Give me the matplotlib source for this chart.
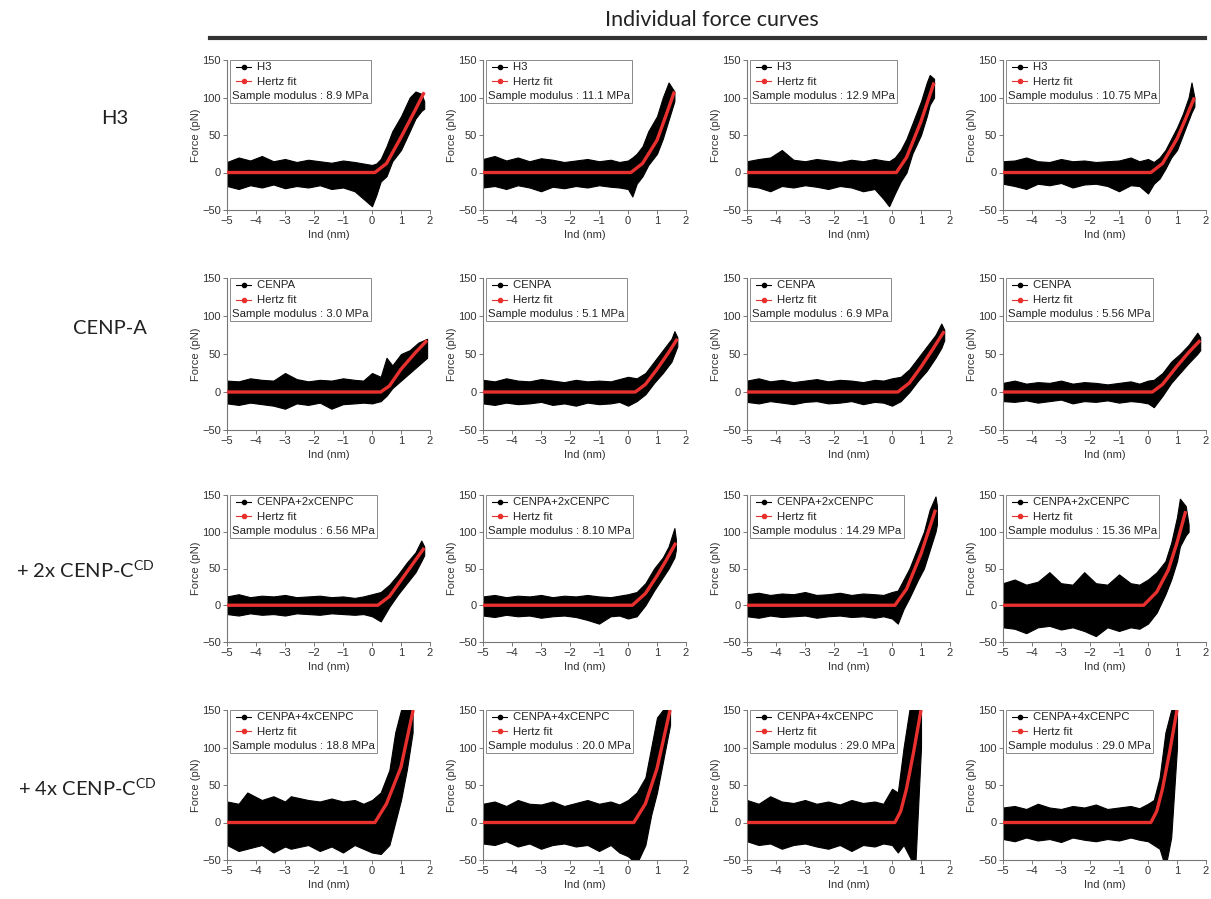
import matplotlib
matplotlib.use("Agg")
import matplotlib.pyplot as plt
from matplotlib.lines import Line2D

# ---------------- data ----------------
row_labels = ["H3", "CENP-A", "+ 2x CENP-C$^{\\mathregular{CD}}$", "+ 4x CENP-C$^{\\mathregular{CD}}$"]
sample_names = ["H3", "CENPA", "CENPA+2xCENPC", "CENPA+4xCENPC"]
moduli = [["8.9", "11.1", "12.9", "10.75"],
          ["3.0", "5.1", "6.9", "5.56"],
          ["6.56", "8.10", "14.29", "15.36"],
          ["18.8", "20.0", "29.0", "29.0"]]

x_ticks = [-5, -4, -3, -2, -1, 0, 1, 2]
y_ticks = [-50, 0, 50, 100, 150]

# Hertz fit curves (x in nm, F in pN)
fit_x = [
    [[-5, 0.1, 0.5, 1.0, 1.5, 1.8], [-5, 0.1, 0.5, 1.0, 1.3, 1.6], [-5, 0.15, 0.5, 1.0, 1.45], [-5, 0.1, 0.5, 1.0, 1.3, 1.6]],
    [[-5, 0.3, 0.6, 1.0, 1.5, 1.9], [-5, 0.25, 0.6, 1.0, 1.4, 1.7], [-5, 0.2, 0.6, 1.0, 1.4, 1.8], [-5, 0.15, 0.5, 1.0, 1.4, 1.8]],
    [[-5, 0.2, 0.6, 1.0, 1.4, 1.8], [-5, 0.15, 0.6, 1.0, 1.3, 1.65], [-5, 0.1, 0.5, 1.0, 1.5], [-5, -0.15, 0.3, 0.7, 1.0, 1.3]],
    [[-5, 0.1, 0.5, 1.0, 1.42], [-5, 0.2, 0.6, 1.0, 1.45], [-5, 0.1, 0.3, 0.5, 0.75, 1.0], [-5, 0.1, 0.3, 0.5, 0.75, 1.0]],
]
fit_f = [
    [[0, 0, 12, 47, 84, 107], [0, 0, 12, 43, 75, 108], [0, 0, 20, 68, 120], [0, 0, 12, 45, 72, 100]],
    [[0, 0, 8, 30, 52, 68], [0, 0, 10, 30, 52, 70], [0, 0, 12, 33, 56, 80], [0, 0, 10, 34, 52, 68]],
    [[0, 0, 12, 34, 56, 78], [0, 0, 16, 40, 60, 85], [0, 0, 22, 70, 130], [0, 0, 18, 48, 85, 128]],
    [[0, 0, 25, 74, 150], [0, 0, 25, 72, 150], [0, 0, 15, 45, 95, 150], [0, 0, 15, 45, 95, 150]],
]

# Envelope of the measured point cloud (x in nm, upper / lower force in pN)
env_x = [
    [[-5, -4.6, -4.2, -3.8, -3.4, -3.0, -2.6, -2.2, -1.8, -1.4, -1.0, -0.6, -0.3, 0.0, 0.15, 0.3, 0.5, 0.7, 1.0, 1.3, 1.5, 1.7, 1.8],
     [-5, -4.6, -4.2, -3.8, -3.4, -3.0, -2.6, -2.2, -1.8, -1.4, -1.0, -0.6, -0.3, 0.0, 0.15, 0.3, 0.5, 0.7, 1.0, 1.2, 1.4, 1.6],
     [-5, -4.6, -4.2, -3.8, -3.4, -3.0, -2.6, -2.2, -1.8, -1.4, -1.0, -0.6, -0.3, -0.1, 0.1, 0.3, 0.5, 0.7, 1.0, 1.2, 1.3, 1.45],
     [-5, -4.6, -4.2, -3.8, -3.4, -3.0, -2.6, -2.2, -1.8, -1.4, -1.0, -0.6, -0.3, 0.0, 0.2, 0.4, 0.6, 0.8, 1.0, 1.2, 1.4, 1.5, 1.6]],
    [[-5, -4.6, -4.2, -3.8, -3.4, -3.0, -2.6, -2.2, -1.8, -1.4, -1.0, -0.6, -0.3, 0.0, 0.3, 0.5, 0.7, 1.0, 1.3, 1.6, 1.9],
     [-5, -4.6, -4.2, -3.8, -3.4, -3.0, -2.6, -2.2, -1.8, -1.4, -1.0, -0.6, -0.3, 0.0, 0.3, 0.6, 0.9, 1.2, 1.5, 1.6, 1.7],
     [-5, -4.6, -4.2, -3.8, -3.4, -3.0, -2.6, -2.2, -1.8, -1.4, -1.0, -0.6, -0.3, 0.0, 0.3, 0.6, 0.9, 1.2, 1.5, 1.7, 1.8],
     [-5, -4.6, -4.2, -3.8, -3.4, -3.0, -2.6, -2.2, -1.8, -1.4, -1.0, -0.6, -0.3, 0.0, 0.2, 0.5, 0.8, 1.1, 1.4, 1.7, 1.8]],
    [[-5, -4.6, -4.2, -3.8, -3.4, -3.0, -2.6, -2.2, -1.8, -1.4, -1.0, -0.6, -0.3, 0.0, 0.3, 0.6, 0.9, 1.2, 1.5, 1.7, 1.8],
     [-5, -4.6, -4.2, -3.8, -3.4, -3.0, -2.6, -2.2, -1.8, -1.4, -1.0, -0.6, -0.3, 0.0, 0.3, 0.6, 0.9, 1.2, 1.4, 1.6, 1.65],
     [-5, -4.6, -4.2, -3.8, -3.4, -3.0, -2.6, -2.2, -1.8, -1.4, -1.0, -0.6, -0.3, 0.0, 0.2, 0.4, 0.6, 0.9, 1.1, 1.3, 1.5, 1.55],
     [-5, -4.6, -4.2, -3.8, -3.4, -3.0, -2.6, -2.2, -1.8, -1.4, -1.0, -0.6, -0.3, 0.0, 0.3, 0.6, 0.8, 1.0, 1.1, 1.3, 1.4]],
    [[-5, -4.6, -4.3, -3.8, -3.4, -3.0, -2.8, -2.2, -1.8, -1.4, -1.0, -0.6, -0.3, 0.0, 0.3, 0.6, 0.8, 1.0, 1.2, 1.4],
     [-5, -4.6, -4.2, -3.8, -3.4, -3.0, -2.6, -2.2, -1.8, -1.4, -1.0, -0.6, -0.3, 0.0, 0.3, 0.6, 0.8, 1.0, 1.2, 1.45],
     [-5, -4.6, -4.2, -3.8, -3.4, -3.0, -2.6, -2.2, -1.8, -1.4, -1.0, -0.6, -0.3, 0.0, 0.2, 0.4, 0.6, 0.8, 0.9, 1.0],
     [-5, -4.6, -4.2, -3.8, -3.4, -3.0, -2.6, -2.2, -1.8, -1.4, -1.0, -0.6, -0.3, 0.0, 0.2, 0.4, 0.6, 0.8, 0.9, 1.0]],
]
env_hi = [
    [[14, 20, 16, 22, 15, 18, 14, 17, 15, 13, 16, 14, 12, 10, 12, 18, 35, 55, 75, 100, 108, 105, 95],
     [18, 22, 16, 20, 15, 19, 17, 14, 16, 18, 15, 17, 14, 16, 20, 25, 35, 55, 75, 100, 120, 108],
     [15, 18, 20, 30, 17, 15, 18, 16, 14, 17, 15, 18, 16, 15, 20, 30, 45, 65, 95, 120, 130, 125],
     [15, 16, 20, 15, 14, 18, 15, 16, 14, 15, 16, 20, 15, 18, 14, 20, 30, 45, 60, 78, 100, 120, 100]],
    [[15, 14, 18, 16, 15, 25, 17, 14, 16, 15, 18, 16, 15, 25, 20, 45, 35, 50, 55, 65, 70],
     [16, 14, 18, 15, 14, 17, 15, 13, 16, 14, 15, 14, 17, 20, 18, 25, 40, 55, 70, 80, 72],
     [15, 18, 14, 16, 13, 15, 17, 14, 16, 15, 13, 16, 15, 18, 20, 30, 45, 60, 75, 90, 82],
     [12, 15, 11, 13, 12, 15, 11, 13, 12, 10, 12, 14, 11, 15, 16, 25, 40, 50, 62, 78, 72]],
    [[12, 15, 11, 13, 12, 14, 11, 12, 13, 11, 12, 10, 12, 15, 18, 28, 42, 58, 72, 88, 80],
     [12, 14, 11, 13, 12, 14, 11, 13, 12, 14, 12, 11, 13, 15, 18, 30, 50, 65, 80, 105, 90],
     [15, 17, 14, 16, 15, 18, 14, 15, 17, 14, 16, 15, 14, 18, 20, 35, 50, 80, 100, 130, 148, 135],
     [30, 35, 28, 32, 45, 30, 28, 45, 30, 28, 42, 30, 28, 35, 45, 60, 85, 120, 145, 135, 110]],
    [[28, 25, 40, 30, 35, 28, 35, 30, 28, 32, 28, 30, 25, 30, 40, 70, 120, 150, 150, 150],
     [25, 28, 22, 30, 25, 24, 28, 22, 26, 30, 25, 28, 24, 30, 40, 60, 100, 140, 150, 150],
     [30, 25, 35, 28, 26, 30, 25, 28, 24, 30, 26, 28, 25, 45, 40, 100, 150, 150, 150, 150],
     [20, 22, 18, 25, 20, 18, 22, 20, 24, 18, 20, 22, 19, 25, 30, 60, 120, 150, 150, 150]],
]
env_lo = [
    [[-18, -22, -17, -20, -16, -21, -18, -20, -17, -22, -20, -25, -35, -45, -30, -12, -5, 15, 30, 55, 72, 82, 85],
     [-20, -18, -22, -17, -20, -25, -19, -21, -18, -20, -17, -19, -20, -22, -32, -15, -5, 10, 25, 45, 70, 95],
     [-18, -20, -25, -18, -20, -17, -19, -22, -18, -20, -25, -22, -35, -45, -28, -12, 0, 25, 50, 75, 90, 100],
     [-15, -18, -22, -15, -17, -14, -20, -16, -15, -18, -25, -17, -18, -28, -15, -8, 5, 20, 30, 50, 70, 80, 88]],
    [[-15, -17, -14, -16, -18, -22, -15, -17, -14, -22, -16, -15, -14, -15, -12, -5, 5, 15, 25, 35, 45],
     [-15, -17, -14, -16, -15, -13, -17, -15, -18, -14, -16, -15, -13, -18, -12, -3, 12, 25, 40, 50, 60],
     [-13, -15, -12, -14, -16, -13, -12, -15, -14, -12, -16, -13, -14, -18, -12, 0, 15, 28, 45, 58, 68],
     [-12, -13, -11, -14, -12, -10, -15, -12, -13, -11, -14, -12, -13, -15, -20, -5, 12, 25, 38, 50, 55]],
    [[-12, -14, -11, -13, -12, -14, -11, -12, -13, -11, -12, -13, -12, -15, -22, -2, 15, 30, 45, 60, 68],
     [-14, -16, -13, -15, -14, -17, -15, -14, -16, -20, -25, -15, -14, -18, -15, 0, 20, 38, 50, 65, 75],
     [-15, -17, -14, -16, -15, -14, -17, -15, -14, -16, -15, -17, -15, -18, -25, -5, 10, 35, 50, 75, 100, 110],
     [-30, -32, -38, -30, -28, -33, -30, -35, -42, -30, -35, -30, -32, -25, -10, 15, 35, 60, 80, 95, 100]],
    [[-30, -38, -35, -30, -40, -32, -35, -30, -38, -32, -40, -30, -35, -40, -42, -30, 0, 30, 70, 120],
     [-28, -30, -25, -32, -28, -35, -30, -28, -32, -30, -38, -30, -40, -45, -55, -30, 10, 40, 80, 130],
     [-25, -30, -28, -35, -30, -28, -32, -35, -30, -38, -30, -32, -28, -30, -40, -30, -45, -60, 20, 100],
     [-22, -25, -20, -24, -22, -26, -20, -23, -25, -22, -24, -20, -23, -25, -30, -35, -60, -20, 40, 100]],
]

# ---------------- layout ----------------
W, H = 1211, 899
col_left = [227, 483, 747, 1003]
col_width = 203
row_top = [60, 278, 495, 710]
row_height = [150, 152, 147, 150]
row_label_x = [115, 110, 85, 87]
row_label_y = [118, 328, 570, 788]

fig = plt.figure(figsize=(W / 100, H / 100), dpi=100)
fig.patch.set_facecolor("white")

tick_font = "Liberation Sans"
head_font = "Lato"
red = "#e8312f"

fig.text(712 / W, 1 - 20 / H, "Individual force curves", fontsize=15.5,
         family=head_font, ha="center", va="center", color="#222222")
fig.add_artist(Line2D([210 / W, 1205 / W], [1 - 38 / H, 1 - 38 / H],
                      transform=fig.transFigure, lw=3, color="#333333"))

for r in range(4):
    fig.text(row_label_x[r] / W, 1 - row_label_y[r] / H, row_labels[r], fontsize=14.5,
             family=head_font, ha="center", va="center", color="#222222")
    for c in range(4):
        left = col_left[c] / W
        bottom = 1 - (row_top[r] + row_height[r]) / H
        ax = fig.add_axes([left, bottom, col_width / W, row_height[r] / H])
        ax.set_xlim(-5, 2)
        ax.set_ylim(-50, 150)
        ax.set_xticks(x_ticks)
        ax.set_yticks(y_ticks)
        for s in ["top", "right"]:
            ax.spines[s].set_visible(False)
        for s in ["left", "bottom"]:
            ax.spines[s].set_color("#777777")
            ax.spines[s].set_linewidth(0.8)
        ax.tick_params(length=3, width=0.7, color="#777777", labelsize=8,
                       labelcolor="#333333", pad=1.5)
        for lab in ax.get_xticklabels() + ax.get_yticklabels():
            lab.set_family(tick_font)
        ax.set_xlabel("Ind (nm)", fontsize=8, family=tick_font, color="#333333", labelpad=3)
        ax.set_ylabel("Force (pN)", fontsize=8, family=tick_font, color="#333333", labelpad=1)

        ax.fill_between(env_x[r][c], env_lo[r][c], env_hi[r][c], color="black",
                        lw=0.8, edgecolor="black", zorder=2)
        ax.plot(fit_x[r][c], fit_f[r][c], color=red, lw=2.4, zorder=3,
                solid_capstyle="butt")

        # legend box
        txt = "        " + sample_names[r] + "\n        Hertz fit\nSample modulus : " + moduli[r][c] + " MPa"
        ax.text(0.025, 0.985, txt, transform=ax.transAxes, ha="left", va="top",
                fontsize=8.2, family=tick_font, color="#222222", linespacing=1.55,
                zorder=5,
                bbox=dict(boxstyle="square,pad=0.2", fc="white", ec="#888888", lw=0.7))
        for yy, col in [(0.953, "black"), (0.857, red)]:
            ax.add_line(Line2D([0.045, 0.12], [yy, yy], transform=ax.transAxes,
                               color=col, lw=0.8, zorder=6))
            ax.add_line(Line2D([0.082], [yy], transform=ax.transAxes, marker="o",
                               markersize=3, color=col, zorder=6))

fig.savefig("out.png", dpi=100, facecolor="white")
